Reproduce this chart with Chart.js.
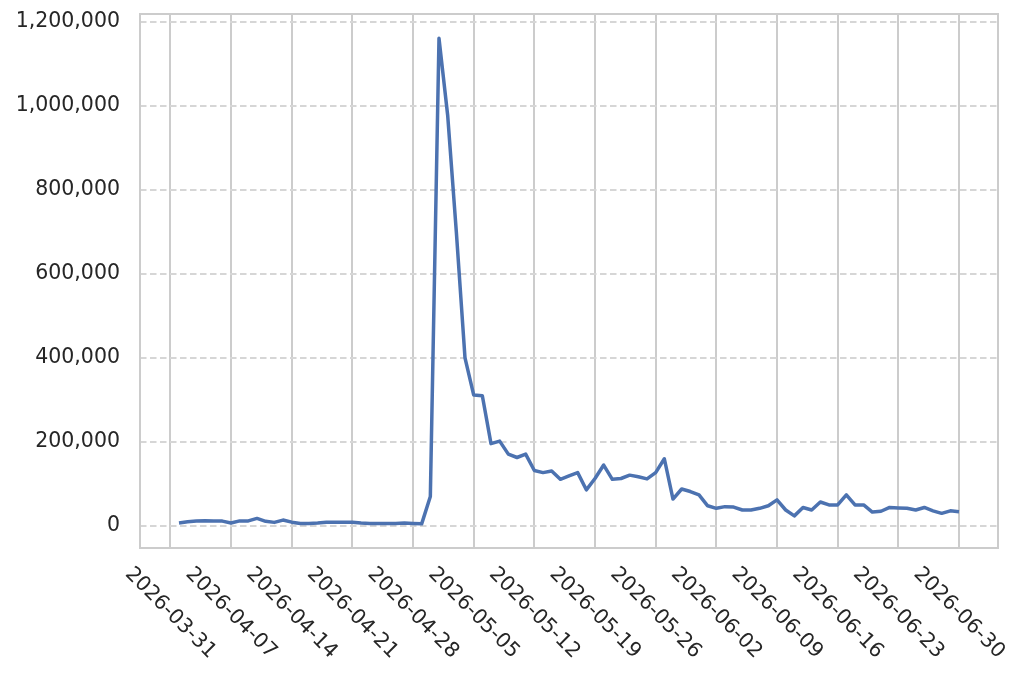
<!DOCTYPE html>
<html>
<head>
<meta charset="utf-8">
<script src="https://cdn.jsdelivr.net/npm/chart.js@4.4.1/dist/chart.umd.min.js"></script>
<style>
  html, body { margin: 0; padding: 0; background: #fff; }
  #wrap { width: 1024px; height: 682px; position: relative; }
</style>
</head>
<body>
<div id="wrap"><canvas id="trendChart"></canvas></div>
<script>
// daily series, 2026-04-01 .. 2026-06-30
const startDate = '2026-04-01';
const dailyValues = [
    7000, 10000, 12000, 12500, 12000, 11500, 7000, 12000, 12000, 18000,
    11000, 8500, 14000, 9000, 6000, 6000, 7000, 9000, 9000, 9000,
    9000, 7000, 6000, 6000, 6000, 6000, 7000, 6000, 5000, 70000,
    1161000, 978000, 700000, 400000, 312000, 310000, 196000, 202000, 171000, 163000,
    171000, 132000, 127000, 131000, 111000, 119000, 127000, 86000, 113000, 145000,
    111000, 113000, 121000, 117000, 112000, 127000, 160000, 64000, 88000, 82000,
    74000, 48000, 42000, 46000, 45000, 38000, 38000, 42000, 48000, 62000,
    38000, 24000, 44000, 38000, 57000, 50000, 50000, 74000, 50000, 50000,
    33000, 35000, 44000, 43000, 42000, 38000, 44000, 36000, 30000, 36000,
    34000
];
const xTickLabels = [
    '2026-03-31', '2026-04-07', '2026-04-14', '2026-04-21', '2026-04-28',
    '2026-05-05', '2026-05-12', '2026-05-19', '2026-05-26', '2026-06-02',
    '2026-06-09', '2026-06-16', '2026-06-23', '2026-06-30'
];
const yTickValues = [0, 200000, 400000, 600000, 800000, 1000000, 1200000];

const DAY = 86400000;
const origin = Date.parse(xTickLabels[0] + 'T00:00:00Z');
const dayOf = (s) => Math.round((Date.parse(s + 'T00:00:00Z') - origin) / DAY);

// dates for each value
const firstDay = dayOf(startDate);
const points = dailyValues.map((v, i) => ({ x: firstDay + i, y: v }));
const xTickDays = xTickLabels.map(dayOf);

const tickFont = '20.5px "DejaVu Sans", sans-serif';
const gridColor = '#cccccc';

// matplotlib-style rotated date labels + full frame
const framePlugin = {
    id: 'framePlugin',
    afterDraw(chart) {
        const { ctx, chartArea } = chart;
        const xs = chart.scales.x;
        ctx.save();
        ctx.strokeStyle = gridColor;
        ctx.lineWidth = 2;
        ctx.strokeRect(chartArea.left, chartArea.top,
            chartArea.right - chartArea.left, chartArea.bottom - chartArea.top);

        ctx.font = tickFont;
        ctx.fillStyle = '#262626';
        ctx.textAlign = 'center';
        ctx.textBaseline = 'middle';
        xTickLabels.forEach((lab, i) => {
            const px = xs.getPixelForValue(xTickDays[i]);
            ctx.save();
            ctx.translate(px, chartArea.bottom + 65);
            ctx.rotate(Math.PI / 4);
            ctx.fillText(lab, 0, 0);
            ctx.restore();
        });
        ctx.restore();
    }
};

const ctx = document.getElementById('trendChart').getContext('2d');
const trendChart = new Chart(ctx, {
    type: 'line',
    data: {
        datasets: [{
            data: points,
            borderColor: '#4c72b0',
            borderWidth: 3.5,
            borderJoinStyle: 'round',
            pointRadius: 0,
            fill: false,
            tension: 0
        }]
    },
    options: {
        responsive: true,
        maintainAspectRatio: false,
        animation: false,
        layout: { padding: { top: 14, right: 26, bottom: 134, left: 0 } },
        plugins: {
            legend: { display: false },
            tooltip: { enabled: false }
        },
        scales: {
            x: {
                type: 'linear',
                min: -3.5,
                max: 95.5,
                afterBuildTicks: (scale) => {
                    scale.ticks = xTickDays.map(v => ({ value: v }));
                },
                afterFit: (scale) => {
                    scale.paddingLeft = 0;
                    scale.paddingRight = 0;
                },
                ticks: { display: false },
                grid: { color: gridColor, lineWidth: 2, drawTicks: false },
                border: { display: false }
            },
            y: {
                min: -52500,
                max: 1219000,
                afterBuildTicks: (scale) => {
                    scale.ticks = yTickValues.map(v => ({ value: v }));
                },
                afterFit: (scale) => {
                    scale.width = 140;
                    scale.paddingTop = 0;
                    scale.paddingBottom = 0;
                },
                ticks: {
                    padding: 20,
                    color: '#262626',
                    font: { family: '"DejaVu Sans", sans-serif', size: 20.5 },
                    callback: (v) => v.toLocaleString('en-US')
                },
                grid: { color: '#d6d6d6', lineWidth: 2, drawTicks: false },
                border: { display: false, dash: [6.5, 3.5] }
            }
        }
    },
    plugins: [framePlugin]
});
</script>
</body>
</html>
